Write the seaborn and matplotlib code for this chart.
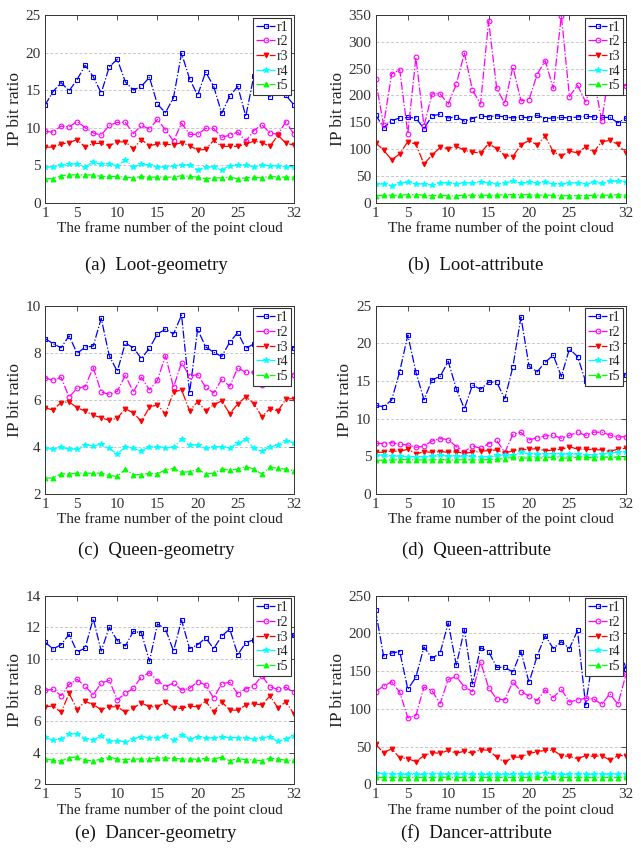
import numpy as np
import pandas as pd
import matplotlib
matplotlib.use("Agg")
import matplotlib.pyplot as plt
import seaborn as sns

frames = list(range(1, 33))
series_names = ["r1", "r2", "r3", "r4", "r5"]

# (a) Loot-geometry
a_r1 = [13.0, 14.8, 16.0, 14.9, 16.4, 18.3, 16.8, 14.6, 18.1, 19.1, 16.1, 15.0, 15.5, 16.7, 13.1, 12.0,
        14.0, 19.9, 16.5, 14.3, 17.4, 15.5, 11.9, 14.2, 15.5, 11.5, 16.9, 21.0, 14.1, 17.0, 14.3, 13.0]
a_r2 = [9.5, 9.4, 10.2, 10.1, 10.8, 10.0, 9.3, 9.0, 10.3, 10.7, 10.7, 9.2, 10.3, 9.8, 11.1, 9.7,
        8.2, 10.6, 9.1, 9.1, 9.9, 9.9, 8.7, 9.0, 9.4, 8.2, 9.6, 10.4, 9.3, 9.1, 10.8, 9.1]
a_r3 = [7.4, 7.4, 7.8, 8.0, 8.4, 7.4, 7.9, 7.9, 7.6, 8.1, 8.1, 7.2, 8.4, 7.6, 7.8, 7.8,
        7.7, 8.0, 7.6, 7.0, 7.1, 8.3, 7.5, 7.5, 7.5, 7.8, 8.2, 8.0, 7.5, 9.0, 7.9, 7.7]
a_r4 = [4.7, 4.8, 5.0, 5.1, 5.2, 4.8, 5.4, 5.1, 5.2, 4.9, 5.7, 4.8, 5.1, 5.0, 4.8, 4.7,
        4.9, 5.0, 5.0, 4.4, 4.7, 4.8, 4.4, 4.9, 5.0, 5.0, 4.8, 5.0, 4.9, 4.9, 4.8, 4.8]
a_r5 = [3.2, 3.2, 3.6, 3.7, 3.7, 3.7, 3.7, 3.5, 3.5, 3.5, 3.4, 3.3, 3.5, 3.4, 3.4, 3.4,
        3.4, 3.6, 3.5, 3.4, 3.2, 3.3, 3.3, 3.4, 3.2, 3.3, 3.4, 3.3, 3.5, 3.4, 3.4, 3.4]

# (b) Loot-attribute
b_r1 = [164, 140, 153, 158, 159, 158, 138, 162, 165, 158, 160, 152, 157, 162, 160, 162,
        160, 158, 160, 158, 163, 157, 158, 159, 158, 160, 161, 160, 159, 159, 149, 158]
b_r2 = [230, 145, 240, 248, 129, 271, 143, 203, 203, 184, 221, 279, 210, 184, 339, 213,
        185, 253, 190, 192, 239, 265, 213, 349, 198, 219, 188, 232, 153, 250, 228, 218]
b_r3 = [112, 98, 80, 91, 114, 109, 72, 89, 103, 101, 105, 98, 94, 93, 110, 101,
        88, 86, 108, 116, 108, 124, 95, 87, 96, 93, 104, 94, 114, 116, 109, 93]
b_r4 = [35, 35, 32, 36, 39, 35, 35, 33, 37, 37, 35, 37, 37, 39, 37, 35,
        37, 40, 36, 38, 37, 38, 35, 34, 37, 37, 34, 38, 36, 40, 40, 39]
b_r5 = [13, 14, 14, 14, 15, 15, 14, 13, 14, 13, 13, 14, 14, 14, 14, 14,
        15, 15, 15, 15, 14, 14, 14, 13, 13, 13, 13, 14, 14, 14, 15, 14]

# (c) Queen-geometry
c_r1 = [8.60, 8.39, 8.21, 8.72, 7.97, 8.24, 8.28, 9.46, 7.87, 7.21, 8.41, 8.21, 7.75, 8.19, 8.80, 9.00,
        8.80, 9.60, 6.29, 8.99, 8.25, 8.02, 7.84, 8.45, 8.86, 8.18, 8.38, 7.85, 8.50, 8.80, 8.30, 8.21]
c_r2 = [6.94, 6.82, 6.96, 6.11, 6.49, 6.56, 7.37, 6.33, 6.23, 6.36, 7.04, 6.33, 6.96, 6.42, 6.83, 7.87,
        6.53, 7.58, 7.01, 7.07, 6.53, 6.29, 6.87, 6.57, 7.36, 7.16, 7.17, 6.62, 6.77, 7.40, 7.30, 7.04]
c_r3 = [5.65, 5.57, 5.88, 5.91, 5.66, 5.52, 5.34, 5.24, 5.12, 5.22, 5.62, 5.44, 5.08, 5.68, 5.79, 5.39,
        6.33, 6.42, 5.54, 5.91, 5.54, 5.79, 5.95, 5.41, 5.82, 6.13, 5.84, 5.28, 5.62, 5.52, 6.03, 6.05]
c_r4 = [3.93, 3.90, 3.97, 3.90, 3.90, 4.09, 4.03, 4.12, 3.93, 3.69, 4.00, 3.93, 3.83, 4.00, 4.00, 3.96,
        3.97, 4.32, 4.09, 4.07, 3.93, 4.00, 4.00, 3.95, 4.14, 4.32, 3.93, 3.80, 4.00, 4.07, 4.26, 4.17]
c_r5 = [2.67, 2.67, 2.85, 2.84, 2.88, 2.88, 2.87, 2.88, 2.78, 2.74, 3.04, 2.81, 2.82, 2.87, 2.85, 3.02,
        3.08, 2.91, 2.94, 3.05, 2.84, 2.88, 3.05, 3.01, 3.05, 3.16, 3.05, 2.84, 3.14, 3.08, 3.05, 2.98]

# (d) Queen-attribute
d_r1 = [11.75, 11.57, 12.46, 16.25, 21.1, 16.17, 12.5, 15.15, 15.6, 17.6, 13.96, 11.3, 14.44, 13.9, 14.84, 14.84,
        12.63, 16.87, 23.5, 16.96, 16.2, 17.5, 18.4, 15.6, 19.26, 18.24, 14.97, 15.2, 17.5, 19.0, 16.8, 15.77]
d_r2 = [6.70, 6.67, 6.80, 6.58, 6.49, 6.18, 6.32, 7.02, 7.33, 7.20, 6.27, 5.60, 6.36, 6.05, 6.67, 7.10,
        5.48, 7.90, 8.17, 7.16, 7.46, 7.69, 7.77, 7.38, 7.77, 8.17, 7.77, 8.20, 8.17, 7.82, 7.55, 7.60]
d_r3 = [5.52, 5.52, 5.70, 5.65, 5.92, 5.34, 5.57, 5.52, 5.60, 5.52, 5.57, 5.39, 5.52, 5.65, 5.74, 5.83,
        5.43, 5.70, 5.83, 5.92, 6.00, 5.70, 5.83, 5.92, 6.23, 5.96, 5.92, 5.87, 5.83, 5.60, 5.96, 6.05]
d_r4 = [5.17, 5.12, 5.08, 4.99, 4.95, 4.95, 4.95, 5.03, 5.17, 5.03, 4.99, 5.03, 4.99, 4.95, 4.95, 5.17,
        5.12, 5.17, 5.52, 5.30, 5.26, 5.26, 5.34, 5.26, 5.30, 5.30, 5.17, 5.21, 5.30, 5.39, 5.57, 5.60]
d_r5 = [4.46, 4.46, 4.50, 4.55, 4.55, 4.50, 4.50, 4.50, 4.55, 4.50, 4.50, 4.55, 4.50, 4.50, 4.55, 4.59,
        4.68, 4.86, 4.73, 4.77, 4.77, 4.77, 4.86, 4.73, 4.77, 4.86, 4.86, 4.77, 4.86, 4.86, 4.86, 4.86]

# (e) Dancer-geometry
e_r1 = [11.05, 10.61, 10.88, 11.54, 10.42, 10.67, 12.54, 10.48, 11.99, 11.14, 10.80, 11.73, 11.65, 9.82, 12.20, 11.88,
        10.48, 12.45, 10.63, 10.88, 11.31, 10.63, 11.43, 11.88, 10.25, 11.01, 11.20, 11.80, 12.10, 11.40, 10.80, 11.52]
e_r2 = [7.98, 8.04, 7.64, 8.36, 8.68, 8.23, 7.70, 8.44, 8.61, 7.38, 7.78, 8.10, 8.85, 9.10, 8.59, 8.21,
        8.44, 8.00, 8.10, 8.53, 8.32, 7.49, 8.40, 8.49, 7.75, 8.08, 8.25, 8.91, 8.21, 8.04, 8.17, 7.85]
e_r3 = [6.94, 6.98, 6.58, 7.78, 6.75, 7.28, 7.07, 6.75, 6.94, 6.92, 6.60, 6.86, 7.17, 6.94, 6.92, 7.24,
        6.86, 6.83, 6.96, 6.94, 7.28, 6.62, 7.24, 6.73, 6.71, 7.05, 7.13, 7.05, 7.62, 6.86, 7.26, 6.45]
e_r4 = [4.99, 4.80, 4.86, 5.20, 5.22, 4.90, 4.84, 5.07, 4.78, 4.78, 4.71, 4.90, 5.03, 4.95, 4.97, 5.05,
        4.80, 5.16, 4.90, 5.03, 4.95, 4.95, 5.01, 4.97, 4.97, 4.93, 4.90, 4.97, 5.01, 4.73, 4.90, 5.07]
e_r5 = [3.63, 3.53, 3.48, 3.70, 3.74, 3.53, 3.50, 3.59, 3.72, 3.61, 3.57, 3.61, 3.61, 3.63, 3.67, 3.67,
        3.65, 3.61, 3.61, 3.59, 3.65, 3.61, 3.72, 3.50, 3.63, 3.57, 3.55, 3.50, 3.67, 3.61, 3.53, 3.53]

# (f) Dancer-attribute
f_r1 = [231, 170, 174, 176, 126, 142, 182, 167, 174, 214, 158, 205, 133, 181, 176, 155,
        155, 149, 176, 135, 170, 197, 180, 189, 180, 204, 105, 175, 195, 180, 188, 153]
f_r2 = [123, 130, 136, 122, 88, 91, 129, 124, 107, 139, 143, 129, 123, 162, 128, 113,
        112, 136, 123, 117, 111, 125, 115, 126, 109, 112, 114, 113, 106, 120, 106, 146]
f_r3 = [53, 42, 47, 35, 34, 30, 38, 42, 41, 45, 41, 44, 41, 46, 45, 36,
        29, 36, 36, 41, 43, 45, 45, 38, 37, 34, 38, 37, 38, 32, 38, 38]
f_r4 = [15, 14, 14, 13, 13, 13, 13, 14, 14, 13, 13, 14, 13, 13, 13, 13,
        13, 13, 13, 14, 14, 15, 14, 13, 13, 14, 13, 13, 14, 13, 14, 14]
f_r5 = [9.5, 9, 9, 9, 9, 9, 9, 9, 9, 9.5, 9, 9, 9, 9, 9, 9,
        9, 9, 9, 9, 9.5, 9, 9.5, 9, 9, 9, 9, 9, 9, 9, 9, 9.5]

captions = ["(a)  Loot-geometry", "(b)  Loot-attribute", "(c)  Queen-geometry",
            "(d)  Queen-attribute", "(e)  Dancer-geometry", "(f)  Dancer-attribute"]
panel_data = [
    [a_r1, a_r2, a_r3, a_r4, a_r5],
    [b_r1, b_r2, b_r3, b_r4, b_r5],
    [c_r1, c_r2, c_r3, c_r4, c_r5],
    [d_r1, d_r2, d_r3, d_r4, d_r5],
    [e_r1, e_r2, e_r3, e_r4, e_r5],
    [f_r1, f_r2, f_r3, f_r4, f_r5],
]
y_limits = [(0, 25, 5), (0, 350, 50), (2, 10, 2), (0, 25, 5), (2, 14, 2), (0, 250, 50)]
x_ticks = [1, 5, 10, 15, 20, 25, 32]

sns.set_theme(style="white")
plt.rcParams["font.family"] = ["Liberation Serif", "DejaVu Serif"]

styles = [
    dict(color="#0000ff", marker="s", mfc="none"),
    dict(color="#ff00ff", marker="o", mfc="none"),
    dict(color="#ff0000", marker="v", mfc="#ff0000"),
    dict(color="#00ffff", marker="*", mfc="#00ffff"),
    dict(color="#00ff00", marker="^", mfc="#00ff00"),
]

fig = plt.figure(figsize=(6.41, 8.59), dpi=100)
W, H = 641.0, 859.0
lefts = [45, 375.5]
tops = [15, 305.7, 595.7]
bottoms = [202.7, 493.8, 784.3]
cap_x = [156, 476]
cap_y = [265, 550, 833]

for i, data in enumerate(panel_data):
    row, col = divmod(i, 2)
    left = lefts[col]
    right = 294 if col == 0 else 626
    ax = fig.add_axes([left / W, 1 - bottoms[row] / H, (right - left) / W, (bottoms[row] - tops[row]) / H])
    df = pd.DataFrame({"frame": frames * 5,
                       "value": sum([list(v) for v in data], []),
                       "series": sum([[n] * 32 for n in series_names], [])})
    for name, st in zip(series_names, styles):
        sub = df[df["series"] == name]
        sns.lineplot(data=sub, x="frame", y="value", ax=ax, color=st["color"],
                     marker=st["marker"], markerfacecolor=st["mfc"], markeredgecolor=st["color"],
                     markersize=3.4 if st["marker"] != "*" else 4.2, markeredgewidth=0.8,
                     linewidth=0.9, linestyle="-.", label=name, legend=False)
    lo, hi, step = y_limits[i]
    ax.set_ylim(lo, hi)
    ax.set_xlim(1, 32)
    ax.set_yticks(np.arange(lo, hi + step / 2, step))
    ax.set_xticks(x_ticks)
    ax.yaxis.grid(True, linestyle=(0, (3, 2)), color="#c8c8c8", linewidth=0.7)
    ax.xaxis.grid(False)
    ax.set_axisbelow(True)
    ax.tick_params(direction="in", top=True, right=True, length=3.5, width=0.6,
                   labelsize=11, colors="#333333", pad=3)
    for sp in ax.spines.values():
        sp.set_color("#333333")
        sp.set_linewidth(0.7)
    ax.set_xlabel("The frame number of the point cloud", fontsize=11, color="#222222", labelpad=1)
    ax.set_ylabel("IP bit ratio", fontsize=12.5, color="#222222", labelpad=2)
    leg = ax.legend(loc="upper right", fontsize=10, frameon=True, fancybox=False, framealpha=1,
                    handlelength=1.4, handletextpad=0.1, labelspacing=0.12,
                    borderpad=0.2, borderaxespad=0.2)
    leg.get_frame().set_edgecolor("#333333")
    leg.get_frame().set_linewidth(0.8)
    fig.text(cap_x[col] / W, 1 - cap_y[row] / H, captions[i], ha="center", va="center",
             fontsize=13.5, color="#111111")

fig.savefig("out.png", dpi=100)
